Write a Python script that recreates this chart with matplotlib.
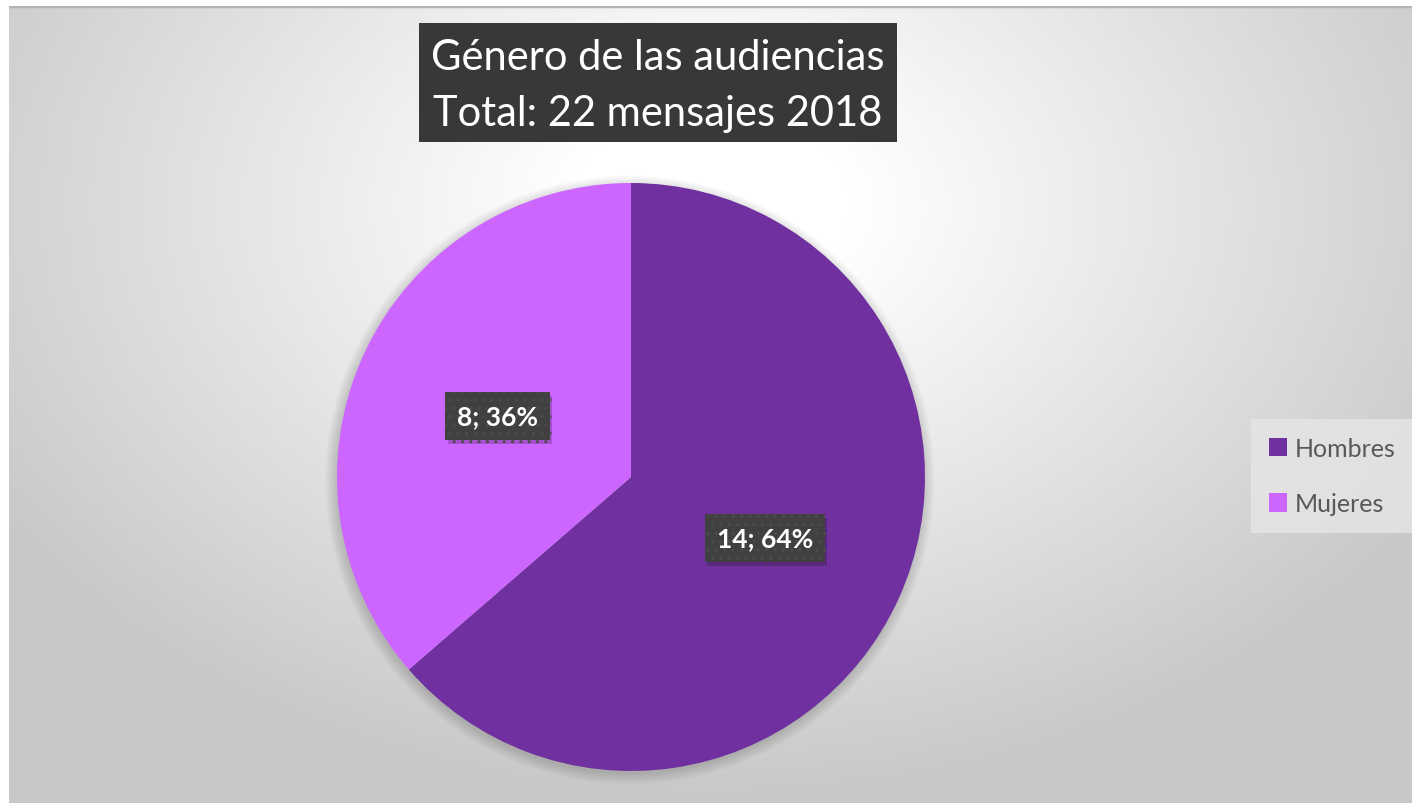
import numpy as np
import matplotlib
matplotlib.use("Agg")
import matplotlib.pyplot as plt
import matplotlib.patheffects as pe
from matplotlib.patches import Rectangle, Patch

# data
categories = ["Hombres", "Mujeres"]
counts = [14, 8]
colors = ["#7030A0", "#CC66FF"]
title_lines = ["Género de las audiencias", "Total: 22 mensajes 2018"]

W, H = 1412, 804
plt.rcParams['font.family'] = ['Lato', 'DejaVu Sans']

fig = plt.figure(figsize=(W / 100, H / 100), dpi=100, facecolor="white")

# background panel with radial gradient
px0, py0 = 9, 7
bg = fig.add_axes([px0 / W, 0, (W - px0) / W, (H - py0) / H])
xx, yy = np.meshgrid(np.linspace(0, 1, 400), np.linspace(0, 1, 240))
d = np.sqrt((xx - 0.5) ** 2 + ((yy - 0.25) * 0.8) ** 2)
t = np.clip(1 - (d - 0.1) / 0.5, 0, 1)
g = (200 + 55 * t) / 255
bg.imshow(np.dstack([g, g, g]), extent=[0, 1, 0, 1], origin="upper", aspect="auto")
bg.axhline(1, color="#b4b4b4", lw=2.5)
bg.set_xlim(0, 1)
bg.set_ylim(0, 1)
bg.axis("off")

# pie
cx, cy, r = 631, 478, 294
ax = fig.add_axes([(cx - r) / W, (H - cy - r) / H, 2 * r / W, 2 * r / H])

# soft shadow around the pie
for k in range(8):
    ax.add_patch(plt.Circle((-0.004, -0.010), 1.0 + 0.005 * k, color="black",
                            alpha=0.02, lw=0, zorder=0, clip_on=False))

total = sum(counts)


def fmt(p):
    return f"{int(round(p * total / 100))}; {p:.0f}%"


wedges, texts, autotexts = ax.pie(counts, colors=colors, startangle=90, counterclock=False,
                                  radius=1, autopct=fmt, pctdistance=0.5,
                                  wedgeprops=dict(linewidth=0))
ax.set_xlim(-1, 1)
ax.set_ylim(-1, 1)
ax.axis("off")

for at in autotexts:
    at.set_color("white")
    at.set_fontsize(19)
    at.set_fontweight("bold")
    at.set_bbox(dict(boxstyle="square,pad=0.45", fc="#404040", ec="#4b4b4b", lw=0, hatch=".."))
    at.get_bbox_patch().set_path_effects([
        pe.SimplePatchShadow(offset=(2, -3), shadow_rgbFace="black", alpha=0.2), pe.Normal()])

# title box
fig.patches.append(Rectangle((419 / W, 1 - 143 / H), (897 - 419) / W, (143 - 24) / H,
                             transform=fig.transFigure, fc="#3a3836", ec="none", zorder=5))
fig.text(658 / W, 1 - 86 / H, "\n".join(title_lines), ha="center", va="center",
         color="white", fontsize=30, linespacing=1.55, zorder=6)

# legend
handles = [Patch(fc=c, ec="none") for c in colors]
leg = fig.legend(handles, categories, loc="center left",
                 bbox_to_anchor=(1251 / W, 1 - 477 / H), frameon=True, fancybox=False,
                 fontsize=18, handlelength=0.75, handleheight=0.75, handletextpad=0.3,
                 labelspacing=1.3, borderpad=0.7, borderaxespad=0)
leg.get_frame().set_facecolor("#e6e6e6")
leg.get_frame().set_alpha(0.8)
leg.get_frame().set_linewidth(0)
for tx in leg.get_texts():
    tx.set_color("#595959")

fig.savefig("out.png", dpi=100, facecolor="white")
